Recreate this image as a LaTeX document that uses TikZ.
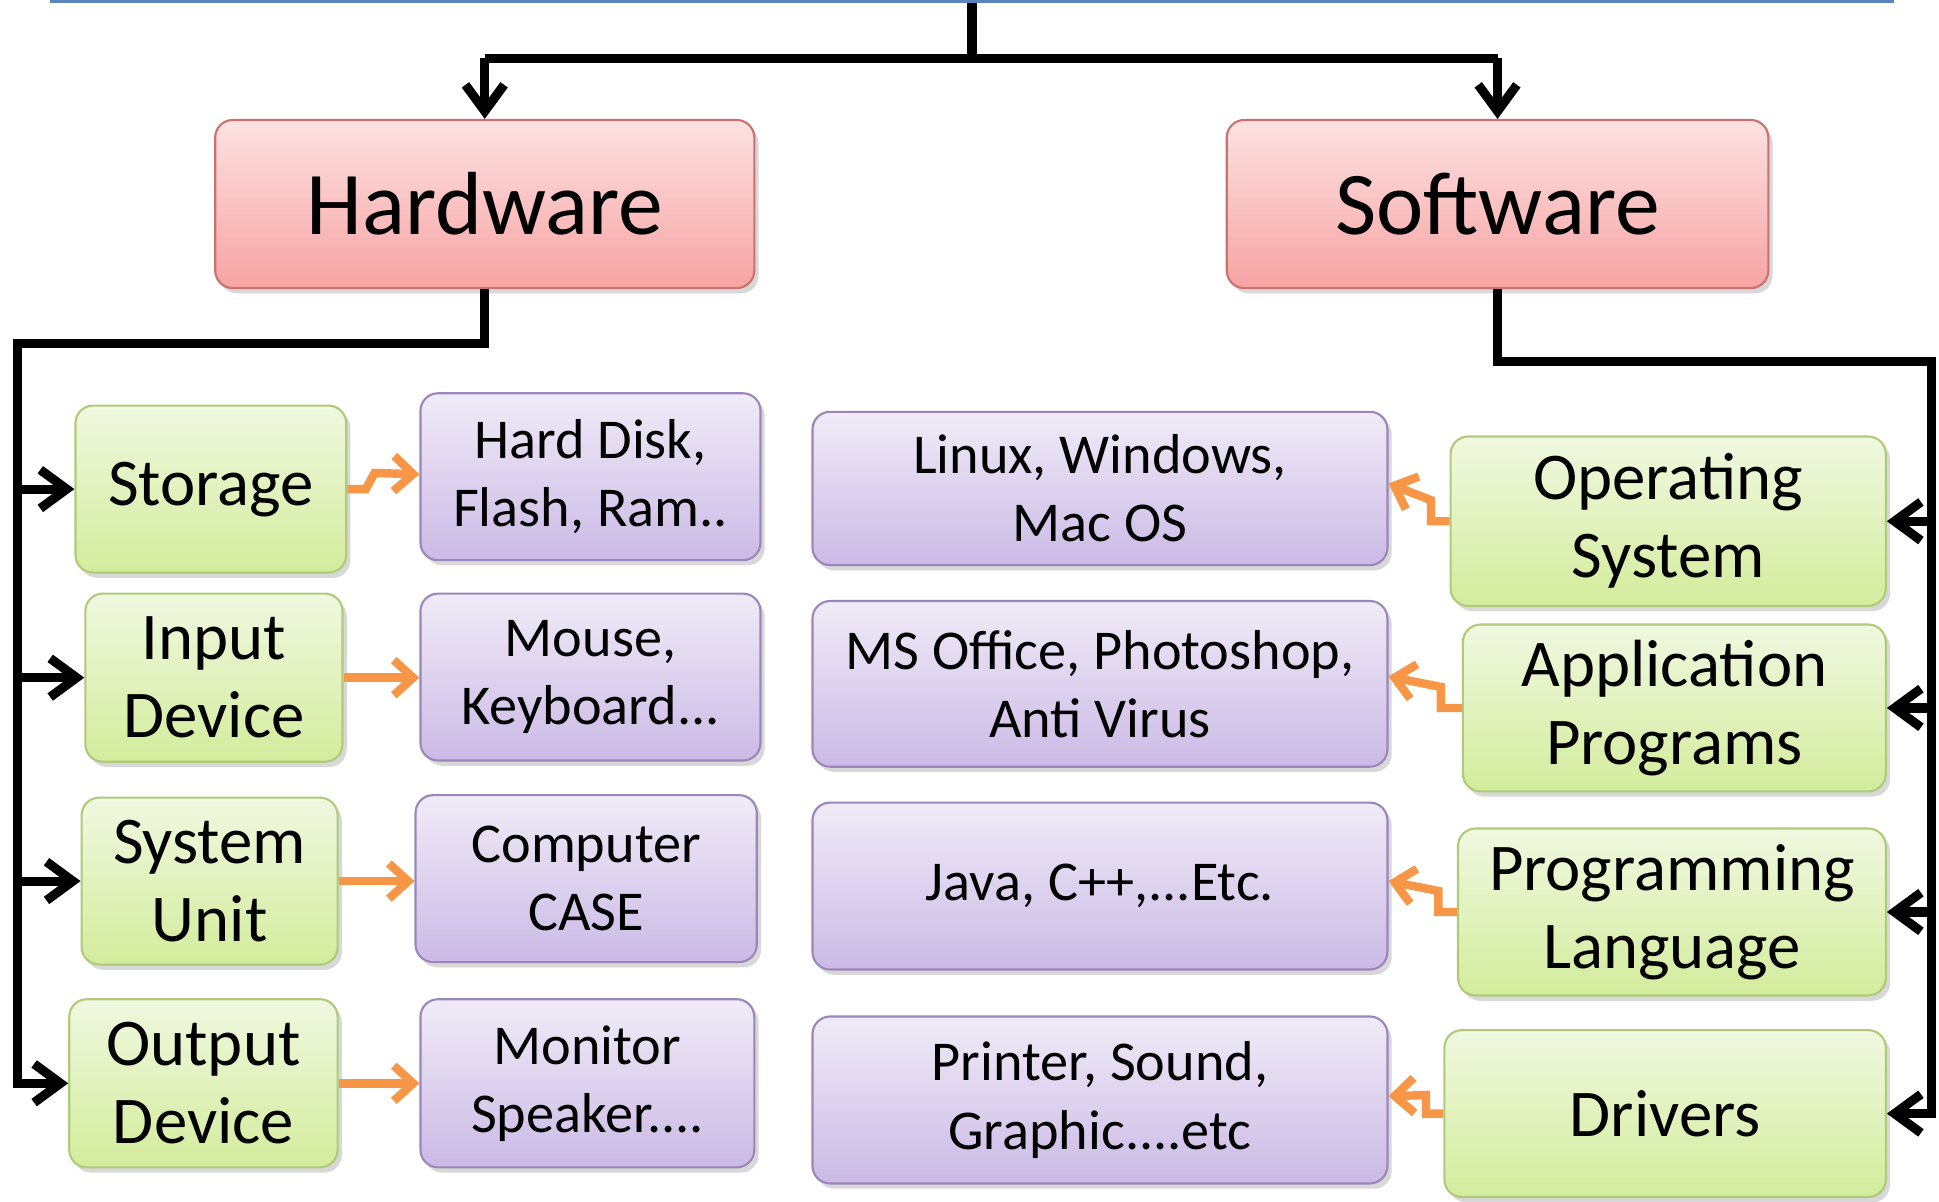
\documentclass[tikz,border=0pt]{standalone}
\usepackage{fontspec}
\setmainfont{Carlito}
\usetikzlibrary{arrows.meta,shadows,calc}
\definecolor{pinkT}{HTML}{FDE2E2}
\definecolor{pinkB}{HTML}{F7A3A3}
\definecolor{pinkD}{HTML}{C9726F}
\definecolor{greenT}{HTML}{F0F8E0}
\definecolor{greenB}{HTML}{D3EC9C}
\definecolor{greenD}{HTML}{AFCB7A}
\definecolor{purpT}{HTML}{F0EBF7}
\definecolor{purpB}{HTML}{CBBAE6}
\definecolor{purpD}{HTML}{9A86BA}
\definecolor{orangeA}{HTML}{F79646}
\definecolor{blueL}{HTML}{5B84BF}
\newcommand\placebox[7]{%
  \pgfmathsetmacro\mybw{(#5-#3)*0.3518}%
  \pgfmathsetmacro\mybh{(#6-#4)*0.3518}%
  \node[#1, minimum width=\mybw pt, minimum height=\mybh pt] (#2) at ({(#3+#5)/2},{(#4+#6)/2}) {#7};}
\tikzset{
  base/.style={rounded corners=5pt, inner sep=0pt, align=center, line width=0.6pt,
    drop shadow={shadow xshift=1.2pt, shadow yshift=-1.5pt, opacity=0.25, fill=black!60}},
  hwsw/.style={base, draw=pinkD, top color=pinkT, bottom color=pinkB, font=\fontsize{25.5}{28}\selectfont},
  cat/.style={base, draw=greenD, top color=greenT, bottom color=greenB, font=\fontsize{19}{22.2}\selectfont},
  ex/.style={base, draw=purpD, top color=purpT, bottom color=purpB, font=\fontsize{16}{19.4}\selectfont},
  topbox/.style={draw=blueL, line width=1pt, inner sep=0pt},
  tree/.style={line width=2.6pt, black},
  treearr/.style={tree, -{Straight Barb[length=7.5pt,width=11pt]}},
  oarr/.style={line width=2.4pt, orangeA, -{Straight Barb[length=5.5pt,width=10pt]}},
}
\begin{document}
\begin{tikzpicture}[x=0.12366mm, y=-0.12366mm]
\fill[white] (0,0) rectangle (1568,972);
\useasboundingbox (0,0) rectangle (1568,972);
% top (cut off) box
\placebox{topbox}{top}{42}{-80}{1530}{1}{}
% level 1
\placebox{hwsw}{hw}{174}{97}{610}{233}{Hardware}
\placebox{hwsw}{sw}{992}{97}{1430}{233}{Software}
% hardware categories
\placebox{cat}{gst}{61}{328}{280}{463}{Storage}
\placebox{cat}{gin}{69}{480}{277}{616}{Input\\Device}
\placebox{cat}{gsu}{66}{645}{273}{780}{System\\Unit}
\placebox{cat}{god}{56}{808}{273}{944}{Output\\Device}
% hardware examples
\placebox{ex}{phd}{340}{318}{615}{453}{Hard Disk,\\Flash, Ram..}
\placebox{ex}{pmo}{340}{480}{615}{615}{Mouse,\\Keyboard...}
\placebox{ex}{pcc}{336}{643}{612}{778}{Computer\\CASE}
\placebox{ex}{pmn}{340}{808}{610}{944}{Monitor\\Speaker....}
% software examples
\placebox{ex}{plx}{657}{333}{1122}{457}{Linux, Windows,\\Mac OS}
\placebox{ex}{pms}{657}{486}{1122}{620}{MS Office, Photoshop,\\Anti Virus}
\placebox{ex}{pja}{657}{649}{1122}{784}{Java, C++,...Etc.}
\placebox{ex}{ppr}{657}{822}{1122}{957}{Printer, Sound,\\Graphic....etc}
% software categories
\placebox{cat}{gos}{1173}{353}{1525}{490}{Operating\\System}
\placebox{cat}{gap}{1183}{505}{1525}{640}{Application\\Programs}
\placebox{cat}{gpl}{1179}{670}{1525}{805}{Programming\\Language}
\placebox{cat}{gdr}{1168}{833}{1525}{968}{Drivers}
% tree connectors
\coordinate (tj) at (786,47);
\draw[tree] (top.south) -- (tj);
\draw[tree] (hw.north |- tj) -- (sw.north |- tj);
\draw[treearr] (hw.north |- tj) -- (hw.north);
\draw[treearr] (sw.north |- tj) -- (sw.north);
\coordinate (hl) at (14,278);
\draw[treearr] (hw.south) |- (hl) |- (god.west);
\draw[treearr] (hl |- gst.west) -- (gst.west);
\draw[treearr] (hl |- gin.west) -- (gin.west);
\draw[treearr] (hl |- gsu.west) -- (gsu.west);
\coordinate (sr) at (1562,292);
\draw[treearr] (sw.south) |- (sr) |- (gdr.east);
\draw[treearr] (sr |- gos.east) -- (gos.east);
\draw[treearr] (sr |- gap.east) -- (gap.east);
\draw[treearr] (sr |- gpl.east) -- (gpl.east);
% orange connectors, hardware side
\draw[oarr] (gst.east) -- ++(15,0) -- ++(7,-13) -- ($(phd.west)+(0,-2)$);
\draw[oarr] (gin.east) -- (gin.east -| pmo.west);
\draw[oarr] (gsu.east) -- (gsu.east -| pcc.west);
\draw[oarr] (god.east) -- (god.east -| pmn.west);
% orange connectors, software side
\draw[oarr] (gos.west) -- ++(-15,0) -- ++(0,-17) -- ($(plx.east)+(0,-4)$);
\draw[oarr] (gap.west) -- ++(-17,0) -- ++(0,-17) -- ($(pms.east)+(0,-6)$);
\draw[oarr] (gpl.west) -- ++(-15,0) -- ++(0,-17) -- ($(pja.east)+(0,-4)$);
\draw[oarr] (gdr.west) -- ++(-14,0) -- ++(0,-15) -- ($(ppr.east)+(0,-3)$);
\end{tikzpicture}
\end{document}
